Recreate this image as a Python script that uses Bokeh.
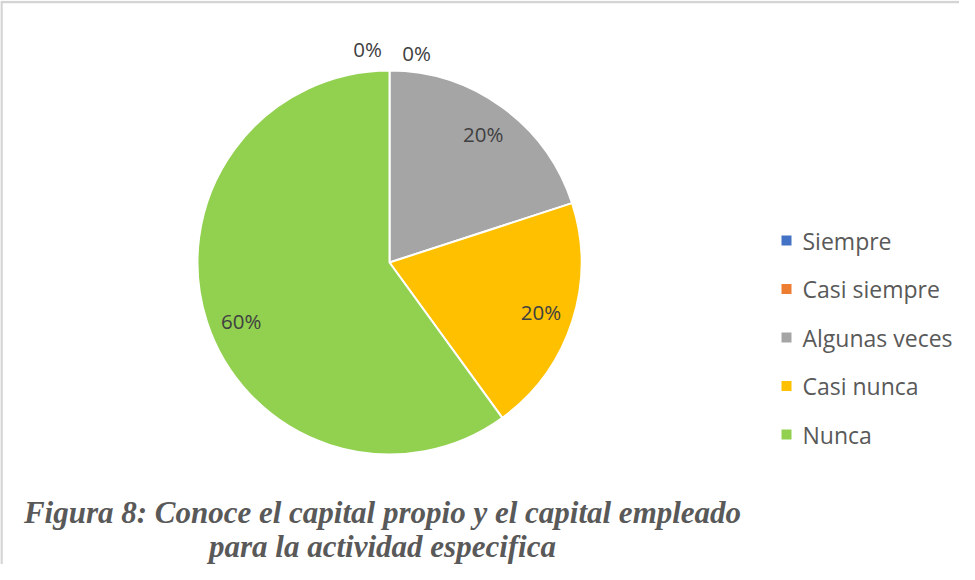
import math
from bokeh.plotting import figure
from bokeh.models import Range1d, ColumnDataSource
from bokeh.embed import file_html
from bokeh.resources import INLINE
from bokeh.core.properties import value

# ---- data ----
categories = ["Siempre", "Casi siempre", "Algunas veces", "Casi nunca", "Nunca"]
percent = [0, 0, 20, 20, 60]
colors = ["#4472C4", "#ED7D31", "#A5A5A5", "#FFC000", "#92D050"]
caption_lines = ["Figura 8: Conoce el capital propio y el capital empleado",
                 "para la actividad especifica"]

# ---- layout (pixel-like data space) ----
W, H = 959, 564
cx, cy, R = 389, 302, 192

p = figure(width=W, height=H, x_range=Range1d(0, W), y_range=Range1d(0, H),
           output_backend="svg", toolbar_location=None, min_border=0,
           x_axis_location=None, y_axis_location=None)
p.grid.visible = False
p.outline_line_color = None
p.background_fill_color = "white"
p.border_fill_color = "white"

# frame (top and left edges)
p.segment(x0=[1, 0], y0=[0, H - 1.5], x1=[1, W], y1=[H - 1.5, H - 1.5],
          line_color="#d4d4d4", line_width=2.5)

total = sum(percent)
starts, ends, cum = [], [], 0.0
for v in percent:
    a0 = math.pi / 2 - cum / total * 2 * math.pi
    cum += v
    a1 = math.pi / 2 - cum / total * 2 * math.pi
    starts.append(a0)
    ends.append(a1)

idx = [i for i, v in enumerate(percent) if v > 0]
src = ColumnDataSource(dict(
    start=[starts[i] for i in idx], end=[ends[i] for i in idx],
    color=[colors[i] for i in idx]))
p.wedge(x=cx, y=cy, radius=R, start_angle="start", end_angle="end",
        direction="clock", fill_color="color", line_color="white",
        line_width=2, source=src)

# data labels
lx, ly, lt = [], [], []
zero_k = 0
for i, v in enumerate(percent):
    mid = (starts[i] + ends[i]) / 2
    if v > 0:
        r = 0.83 * R
        if v > 50:
            mid += 0.06
        lx.append(cx + r * math.cos(mid))
        ly.append(cy + r * math.sin(mid))
    else:
        r = 1.1 * R
        off = -22 if zero_k == 0 else 27
        lx.append(cx + r * math.cos(mid) + off)
        ly.append(cy + r * math.sin(mid) + (2 if zero_k == 0 else -2))
        zero_k += 1
    lt.append(f"{v}%")
p.text(x=lx, y=ly, text=lt, text_font=value("Open Sans"), text_font_size="20.5px",
       text_color="#404040", text_align="center", text_baseline="middle")

# legend
leg_x, leg_y0, leg_dy = 786, 324, 48.5
ly_leg = [leg_y0 - k * leg_dy for k in range(len(categories))]
p.scatter(x=[leg_x] * len(categories), y=ly_leg, marker="square", size=10,
          fill_color=colors, line_color=None)
p.text(x=[leg_x + 16] * len(categories), y=ly_leg, text=categories,
       text_font=value("Open Sans"), text_font_size="23px", text_color="#595959",
       text_align="left", text_baseline="middle")

# caption
p.text(x=[382, 382], y=[52, 18], text=caption_lines,
       text_font=value("Liberation Serif"), text_font_style="bold italic",
       text_font_size="31px", text_color="#595959",
       text_align="center", text_baseline="middle")

open("out.html", "w").write(file_html(p, INLINE))
